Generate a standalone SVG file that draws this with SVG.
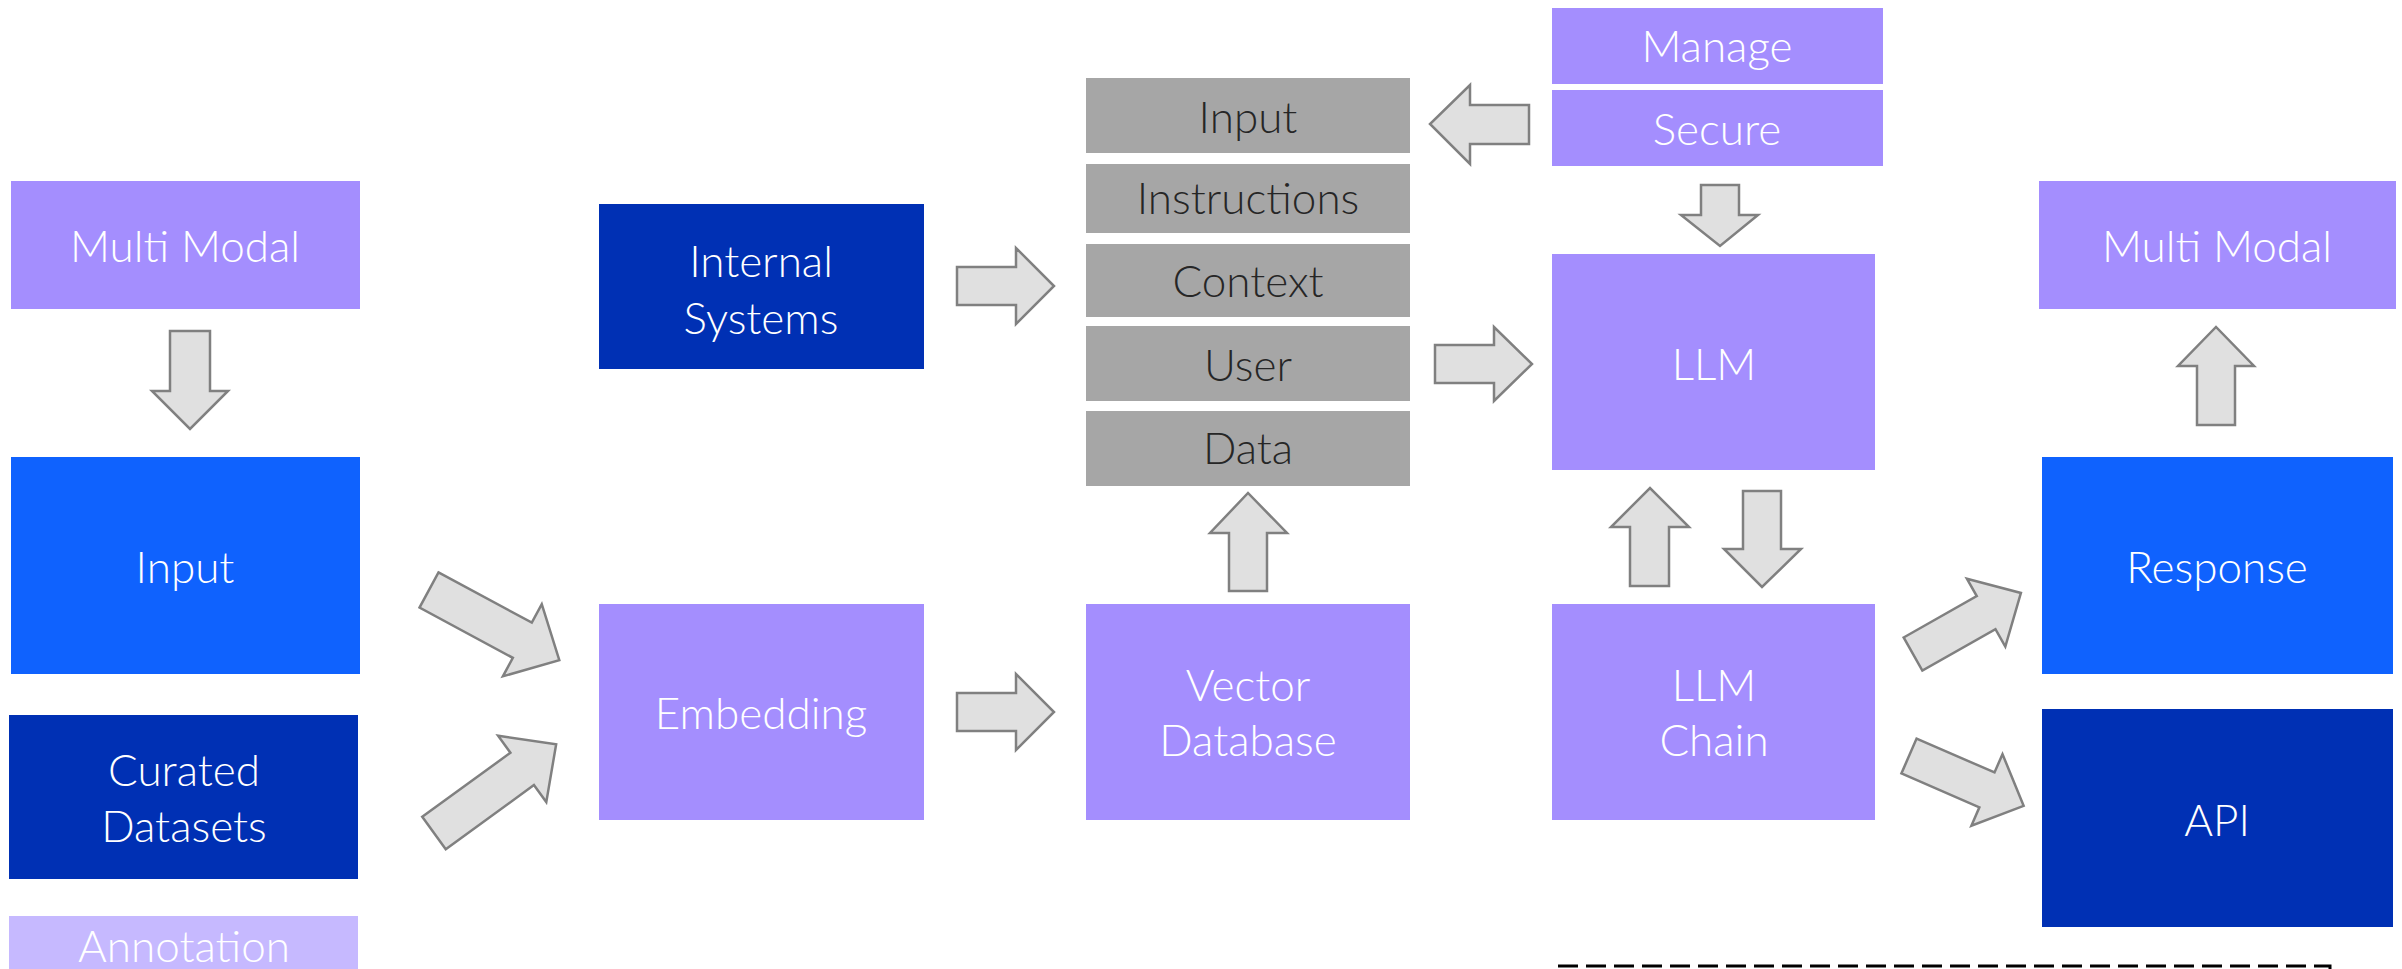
<svg xmlns="http://www.w3.org/2000/svg" width="2402" height="969" viewBox="0 0 2402 969">
<style>
.lav{fill:#A48EFE}
.blue{fill:#0F62FE}
.dark{fill:#0030B4}
.light{fill:#C6B9FF}
.gray{fill:#A6A6A6}
text{font-family:Lato,"Open Sans","Liberation Sans",sans-serif;font-size:44px;font-weight:300;text-anchor:middle}
.w{fill:#FFFFFF}
.k{fill:#262626}
.arr{fill:#E0E0E0;stroke:#808080;stroke-width:2.5;stroke-linejoin:miter}
</style>
<rect width="2402" height="969" fill="#FFFFFF"/>

<g id="mm-left"><rect class="lav" x="11" y="181" width="349" height="128"/><text class="w" x="185" y="262">Multi Modal</text></g>
<g id="input-left"><rect class="blue" x="11" y="457" width="349" height="217"/><text class="w" x="185" y="583">Input</text></g>
<g id="curated"><rect class="dark" x="9" y="715" width="349" height="164"/><text class="w" x="184" y="786">Curated</text><text class="w" x="184" y="842">Datasets</text></g>
<g id="annotation"><rect class="light" x="9" y="916" width="349" height="60"/><text class="w" x="184" y="962">Annotation</text></g>
<g id="internal"><rect class="dark" x="599" y="204" width="325" height="165"/><text class="w" x="761" y="277">Internal</text><text class="w" x="761" y="334">Systems</text></g>
<g id="embedding"><rect class="lav" x="599" y="604" width="325" height="216"/><text class="w" x="761" y="729">Embedding</text></g>

<g id="stack-input"><rect class="gray" x="1086" y="78" width="324" height="75"/><text class="k" x="1248" y="133">Input</text></g>
<g id="stack-instructions"><rect class="gray" x="1086" y="164" width="324" height="69"/><text class="k" x="1248" y="214">Instructions</text></g>
<g id="stack-context"><rect class="gray" x="1086" y="244" width="324" height="73"/><text class="k" x="1248" y="297">Context</text></g>
<g id="stack-user"><rect class="gray" x="1086" y="326" width="324" height="75"/><text class="k" x="1248" y="381">User</text></g>
<g id="stack-data"><rect class="gray" x="1086" y="411" width="324" height="75"/><text class="k" x="1248" y="464">Data</text></g>
<g id="vector"><rect class="lav" x="1086" y="604" width="324" height="216"/><text class="w" x="1248" y="701">Vector</text><text class="w" x="1248" y="756">Database</text></g>

<g id="manage"><rect class="lav" x="1552" y="8" width="331" height="76"/><text class="w" x="1717" y="62">Manage</text></g>
<g id="secure"><rect class="lav" x="1552" y="90" width="331" height="76"/><text class="w" x="1717" y="145">Secure</text></g>
<g id="llm"><rect class="lav" x="1552" y="254" width="323" height="216"/><text class="w" x="1714" y="380">LLM</text></g>
<g id="llm-chain"><rect class="lav" x="1552" y="604" width="323" height="216"/><text class="w" x="1714" y="701">LLM</text><text class="w" x="1714" y="756">Chain</text></g>

<g id="mm-right"><rect class="lav" x="2039" y="181" width="357" height="128"/><text class="w" x="2217" y="262">Multi Modal</text></g>
<g id="response"><rect class="blue" x="2042" y="457" width="351" height="217"/><text class="w" x="2217" y="583">Response</text></g>
<g id="api"><rect class="dark" x="2042" y="709" width="351" height="218"/><text class="w" x="2217" y="836">API</text></g>

<g id="connectors">
<polygon class="arr" points="170,331 210,331 210,391 228,391 190,429 152,391 170,391"/>
<polygon class="arr" transform="translate(429,590) rotate(28.3)" points="0,-20 106,-20 106,-41 148,0 106,41 106,20 0,20"/>
<polygon class="arr" transform="translate(434,833) rotate(-36)" points="0,-20 109,-20 109,-41 151,0 109,41 109,20 0,20"/>
<polygon class="arr" points="957,267 1016,267 1016,248 1054,286 1016,324 1016,305 957,305"/>
<polygon class="arr" points="957,693 1016,693 1016,674 1054,712 1016,750 1016,731 957,731"/>
<polygon class="arr" points="1229,591 1229,533 1210,533 1248,493 1287,533 1267,533 1267,591"/>
<polygon class="arr" points="1529,105 1470,105 1470,85 1430,124 1470,164 1470,144 1529,144"/>
<polygon class="arr" points="1701,185 1739,185 1739,215 1758,215 1720,246 1681,215 1701,215"/>
<polygon class="arr" points="1435,345 1494,345 1494,327 1532,364 1494,401 1494,383 1435,383"/>
<polygon class="arr" points="1630,586 1630,527 1611,527 1650,488 1689,527 1669,527 1669,586"/>
<polygon class="arr" points="1743,491 1781,491 1781,549 1801,549 1762,587 1724,549 1743,549"/>
<polygon class="arr" transform="translate(1913,654) rotate(-29.5)" points="0,-19 84,-19 84,-39 124,0 84,39 84,19 0,19"/>
<polygon class="arr" transform="translate(1909,756) rotate(23.5)" points="0,-19 85,-19 85,-39 125,0 85,39 85,19 0,19"/>
<polygon class="arr" points="2197,425 2197,366 2178,366 2216,327 2254,366 2235,366 2235,425"/>
<path d="M1558 966 H2330 V985" fill="none" stroke="#000000" stroke-width="3" stroke-dasharray="20 8"/>
</g>
</svg>
